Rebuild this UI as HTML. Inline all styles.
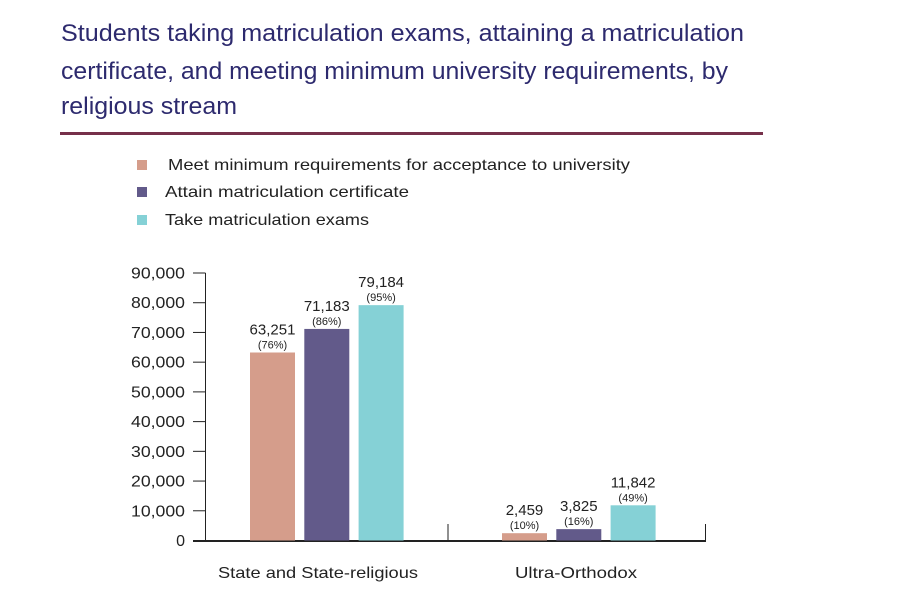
<!DOCTYPE html>
<html><head><meta charset="utf-8"><style>
html,body{margin:0;padding:0;background:#fff;}
svg{display:block;}
text{font-family:"Liberation Sans",sans-serif;}
.t{font-family:"Liberation Sans Narrow","Liberation Sans",sans-serif;fill:#2d2a6e;font-size:24px;}
</style></head><body>
<svg id="chart" width="902" height="597" viewBox="0 0 902 597">
<text class="t" x="61" y="41" textLength="683" lengthAdjust="spacingAndGlyphs">Students taking matriculation exams, attaining a matriculation</text>
<text class="t" x="61" y="79" textLength="667" lengthAdjust="spacingAndGlyphs">certificate, and meeting minimum university requirements, by</text>
<text class="t" x="61" y="114" textLength="176" lengthAdjust="spacingAndGlyphs">religious stream</text>
<rect x="60" y="132" width="703" height="3" fill="#76304a"/>
<g id="legend"></g>
<g id="axes"></g>
<g id="bars"></g>
</svg>
<script>
const categories = ["State and State-religious", "Ultra-Orthodox"];
const seriesNames = ["Meet minimum requirements for acceptance to university", "Attain matriculation certificate", "Take matriculation exams"];
const seriesColors = ["#d59d8b", "#625a8a", "#85d1d6"];
const meetValues = [63251, 2459];
const attainValues = [71183, 3825];
const takeValues = [79184, 11842];
const meetPct = ["(76%)", "(10%)"];
const attainPct = ["(86%)", "(16%)"];
const takePct = ["(95%)", "(49%)"];
const yTicks = [0, 10000, 20000, 30000, 40000, 50000, 60000, 70000, 80000, 90000];
const yTickLabels = ["0", "10,000", "20,000", "30,000", "40,000", "50,000", "60,000", "70,000", "80,000", "90,000"];

const NS = "http://www.w3.org/2000/svg";
const Y0 = 540.5, Y90 = 273, YMAX = 90000;
function yScale(v){ return Y0 - (v / YMAX) * (Y0 - Y90); }
const groupLeft = [250, 502];
const barW = 45, barStep = 54.3;
function xBar(g, s){ return groupLeft[g] + s * barStep; }
function mk(tag, attrs, parent){ const e=document.createElementNS(NS,tag); for(const k in attrs) e.setAttribute(k, attrs[k]); parent.appendChild(e); return e; }

const legend = document.getElementById('legend');
const legendY = [165, 192, 220];
const legendX = [168, 165, 165];
const legendLen = [462, 244, 204];
seriesNames.forEach((n,i)=>{
  const r = mk('rect',{x:137,y:legendY[i]-5,width:10,height:10,fill:seriesColors[i]},legend);
  
  
  const t = mk('text',{x:legendX[i],y:legendY[i]+5,'font-size':16,fill:'#222',textLength:legendLen[i],lengthAdjust:'spacingAndGlyphs'},legend);
  t.textContent = n;
  
  
});

const axes = document.getElementById('axes');
const yl = mk('line',{x1:205.5,y1:Y90,x2:205.5,y2:Y0,stroke:'#222','stroke-width':1},axes);


yTicks.forEach((v,i)=>{
  const y = yScale(v);
  const tk = mk('line',{x1:193,y1:y,x2:205.5,y2:y,stroke:'#222','stroke-width':1},axes);
  
  
  const attrs = {x:185,y:y+5.5,'text-anchor':'end','font-size':16,fill:'#222'};
  if (yTickLabels[i].length > 3) { attrs.textLength = 54; attrs.lengthAdjust = 'spacingAndGlyphs'; }
  const t = mk('text',attrs,axes);
  t.textContent = yTickLabels[i];
  
  
});
const base = mk('line',{x1:193,y1:Y0+0.5,x2:706,y2:Y0+0.5,stroke:'#222','stroke-width':2},axes);


[448, 705.5].forEach(x=>{
  const s = mk('line',{x1:x,y1:524,x2:x,y2:Y0,stroke:'#222','stroke-width':1},axes);
  
  
});
const catX = [318, 576];
const catLen = [200, 122];
categories.forEach((c,i)=>{
  const t = mk('text',{x:catX[i],y:578,'text-anchor':'middle','font-size':16,fill:'#222',textLength:catLen[i],lengthAdjust:'spacingAndGlyphs'},axes);
  t.textContent = c;
  
  
});

const bars = document.getElementById('bars');
const allVals = [meetValues, attainValues, takeValues];
const allPct = [meetPct, attainPct, takePct];
categories.forEach((c,g)=>{
  allVals.forEach((vals,s)=>{
    const v = vals[g], x = xBar(g,s), y = yScale(v);
    const r = mk('rect',{x:x,y:y,width:barW,height:Y0-y,fill:seriesColors[s]},bars);
    
    
    const p = mk('text',{x:x+barW/2,y:y-4,'text-anchor':'middle','font-size':11,fill:'#222'},bars);
    p.textContent = allPct[s][g];
    
    
    const t = mk('text',{x:x+barW/2,y:y-18,'text-anchor':'middle','font-size':15,fill:'#222'},bars);
    t.textContent = v.toLocaleString('en-US');
    
    
  });
});
</script>
</body></html>
